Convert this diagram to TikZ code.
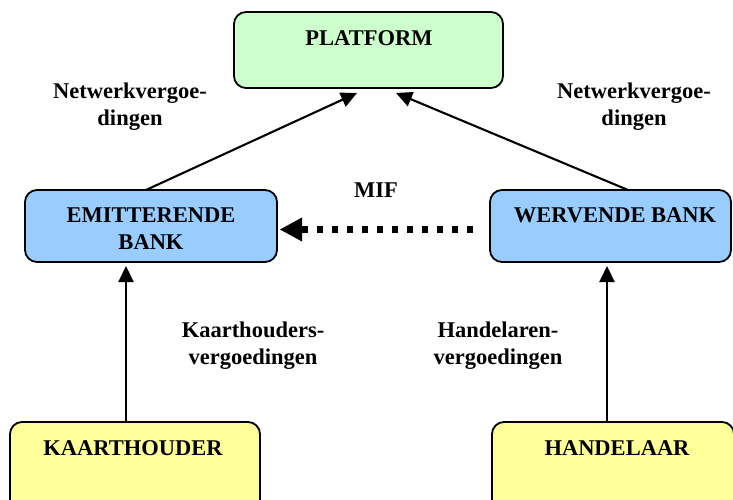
\documentclass[tikz,border=0pt]{standalone}
\usepackage{fontspec}
\setmainfont{Liberation Serif}
\usetikzlibrary{arrows.meta}
\definecolor{pgreen}{HTML}{CCFFCC}
\definecolor{pblue}{HTML}{99CCFF}
\definecolor{pyellow}{HTML}{FFFF99}
\tikzset{
  box/.style={draw=black, line width=1.8pt, rounded corners=12pt, inner sep=0pt},
  txt/.style={font=\fontsize{22.5}{27}\selectfont\bfseries, align=center, inner sep=0pt},
  arr/.style={line width=2.1pt, -{Triangle[length=16pt,width=15pt]}},
  mif/.style={line width=7pt, dash pattern=on 6pt off 9pt, -{Triangle[length=22pt,width=24pt,line width=0pt]}}
}
\begin{document}
\begin{tikzpicture}[x=1pt,y=-1pt]
\useasboundingbox (0,0) rectangle (733,500);
\clip (0,0) rectangle (733,500);
% boxes
\node[box, fill=pgreen, minimum width=269pt, minimum height=76pt] (plat) at (368.5,50) {};
\node[box, fill=pblue, minimum width=252pt, minimum height=72pt] (emi) at (151,226) {};
\node[box, fill=pblue, minimum width=241pt, minimum height=72pt] (wer) at (610.5,226) {};
\node[box, fill=pyellow, minimum width=250pt, minimum height=100pt] (kaart) at (135,472) {};
\node[box, fill=pyellow, minimum width=242pt, minimum height=100pt] (hand) at (613,472) {};
% box texts
\node[txt] (platT) at (369,38) {PLATFORM};
\node[txt] (emiT) at (151,229) {EMITTERENDE\\BANK};
\node[txt] (werT) at (615,215) {WERVENDE BANK};
\node[txt] (kaartT) at (133,448) {KAARTHOUDER};
\node[txt] (handT) at (617,448) {HANDELAAR};
% labels
\node[txt] (nl) at (130,107) {Netwerkvergoe-\\dingen};
\node[txt] (nr) at (634,107) {Netwerkvergoe-\\dingen};
\node[txt] (mifT) at (376,190) {MIF};
\node[txt] (kv) at (253,346) {Kaarthouders-\\vergoedingen};
\node[txt] (hv) at (498,346) {Handelaren-\\vergoedingen};
% connector ends
\coordinate (pl) at (357,93);
\coordinate (pr) at (396,93);
\coordinate (es) at (146,190);
\coordinate (ws) at (628,190);
\coordinate (ks) at (126,422);
\coordinate (ke) at (126,266);
\coordinate (hs) at (607,422);
\coordinate (he) at (607,266);
\coordinate (ms) at (473,229.5);
\coordinate (me) at (280,229.5);
% connectors
\draw[arr] (es) -- (pl);
\draw[arr] (ws) -- (pr);
\draw[arr] (ks) -- (ke);
\draw[arr] (hs) -- (he);
\draw[mif] (ms) -- (me);
\end{tikzpicture}
\end{document}
